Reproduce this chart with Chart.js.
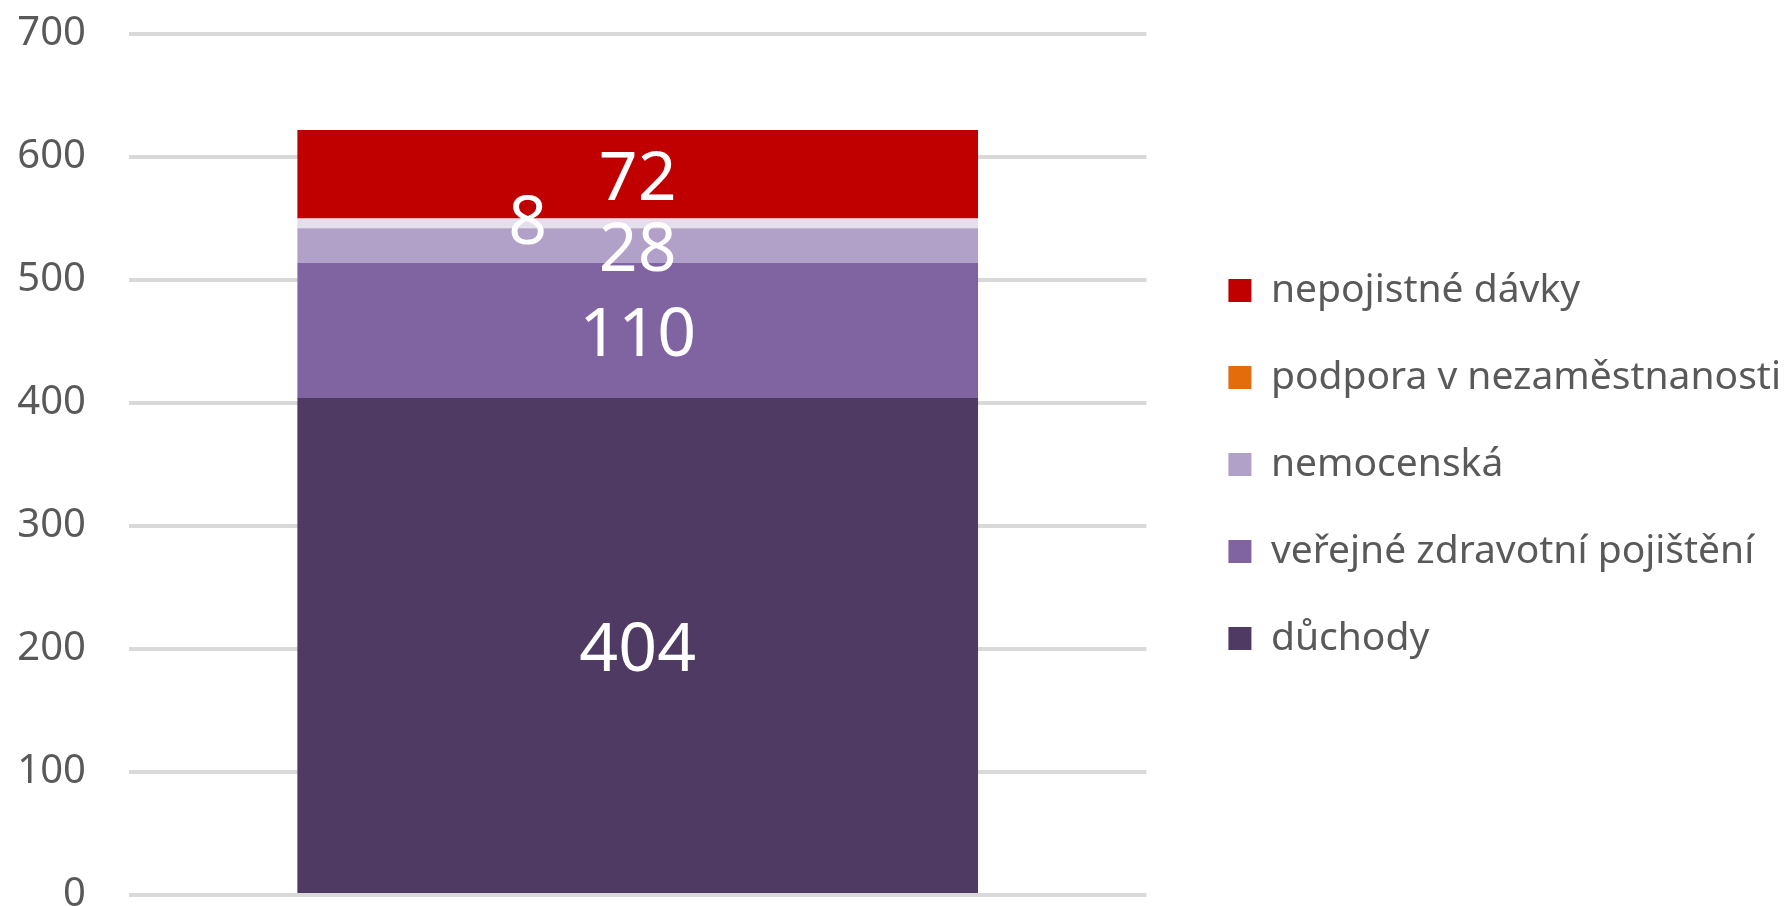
<!DOCTYPE html>
<html>
<head>
<meta charset="utf-8">
<script src="https://cdn.jsdelivr.net/npm/chart.js@4"></script>
<style>
  body { margin: 0; background: #fff; }
  #wrap { width: 1791px; height: 906px; position: relative; }
</style>
</head>
<body>
<div id="wrap"><canvas id="benefitsChart"></canvas></div>
<script>
// --- data (bottom of stack first) ---
const categories = [''];
const seriesNames = ['důchody', 'veřejné zdravotní pojištění', 'nemocenská', 'podpora v nezaměstnanosti', 'nepojistné dávky'];
const duchody = [404];
const zdravotni = [110];
const nemocenska = [28];
const podpora = [8];
const nepojistne = [72];
const yTicks = [0, 100, 200, 300, 400, 500, 600, 700];

// colours: bar fill and legend swatch differ for the unemployment series
const barColors = ['#4E3A62', '#8064A2', '#B1A0C7', '#E4DFEC', '#C00000'];
const legendColors = ['#4E3A62', '#8064A2', '#B1A0C7', '#E46C0A', '#C00000'];
// nudge for the small "8" label so it does not sit on top of "28"
const labelShiftX = [0, 0, 0, -110, 0];
const labelShiftY = [6, 6, 6, 1, 6];

const seriesValues = [duchody, zdravotni, nemocenska, podpora, nepojistne];
const textGrey = '#595959';

// draw value labels in the middle of each stacked segment
const segmentLabels = {
    id: 'segmentLabels',
    afterDatasetsDraw(chart) {
        const ctx = chart.ctx;
        ctx.save();
        ctx.fillStyle = '#ffffff';
        ctx.font = '68px "Noto Sans"';
        ctx.textAlign = 'center';
        ctx.textBaseline = 'middle';
        chart.data.datasets.forEach((ds, i) => {
            const meta = chart.getDatasetMeta(i);
            meta.data.forEach((bar, j) => {
                const p = bar.getProps(['x', 'y', 'base'], true);
                ctx.fillText(String(ds.data[j]), p.x + labelShiftX[i], (p.y + p.base) / 2 + labelShiftY[i]);
            });
        });
        ctx.restore();
    }
};

const ctx = document.getElementById('benefitsChart').getContext('2d');
new Chart(ctx, {
    type: 'bar',
    data: {
        labels: categories,
        datasets: seriesNames.map((name, i) => ({
            label: name,
            data: seriesValues[i],
            backgroundColor: barColors[i],
            borderWidth: 0,
            barPercentage: 0.669,
            categoryPercentage: 1
        }))
    },
    options: {
        responsive: true,
        maintainAspectRatio: false,
        animation: false,
        layout: { padding: { top: 34, bottom: 11, left: 0, right: 0 } },
        plugins: {
            tooltip: { enabled: false },
            legend: {
                position: 'right',
                reverse: true,
                maxWidth: 800,
                labels: {
                    boxWidth: 23,
                    boxHeight: 23,
                    padding: 48,
                    color: textGrey,
                    font: { family: '"Noto Sans"', size: 39 },
                    generateLabels(chart) {
                        const items = Chart.defaults.plugins.legend.labels.generateLabels(chart);
                        items.forEach(it => {
                            it.fillStyle = legendColors[it.datasetIndex];
                            it.strokeStyle = legendColors[it.datasetIndex];
                            it.lineWidth = 0;
                        });
                        return items;
                    }
                }
            }
        },
        scales: {
            x: {
                display: false,
                stacked: true
            },
            y: {
                stacked: true,
                min: yTicks[0],
                max: yTicks[yTicks.length - 1],
                afterBuildTicks(scale) {
                    scale.ticks = yTicks.map(v => ({ value: v }));
                },
                afterFit(scale) {
                    scale.width = 129;
                    // labels may overhang the plot edges like in the original
                    scale.paddingTop = 0;
                    scale.paddingBottom = 0;
                },
                grid: { color: '#D9D9D9', lineWidth: 4, drawTicks: false },
                border: { display: false },
                ticks: {
                    padding: 43,
                    color: textGrey,
                    font: { family: '"Noto Sans"', size: 40 }
                }
            },
            // empty axis on the right only to leave the gap before the legend
            gap: {
                position: 'right',
                grid: { display: false },
                border: { display: false },
                ticks: { display: false },
                afterFit(scale) { scale.width = 34; }
            }
        }
    },
    plugins: [segmentLabels]
});
</script>
</body>
</html>
